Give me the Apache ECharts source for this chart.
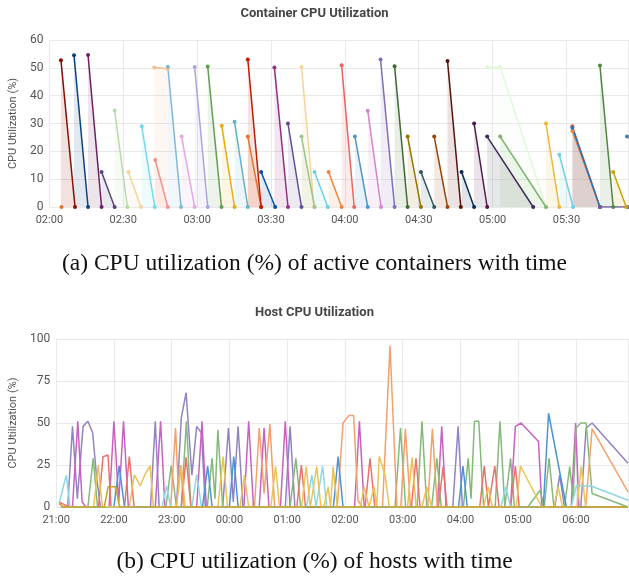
<!DOCTYPE html>
<html>
<head>
<meta charset="utf-8">
<script src="https://cdn.jsdelivr.net/npm/echarts@6/dist/echarts.min.js"></script>
<style>
  html, body { margin: 0; padding: 0; background: #fff; }
  #chart { width: 629px; height: 578px; }
</style>
</head>
<body>
<div id="chart"></div>
<script>
// (a) containers: minutes after 02:00, CPU %
const containerTicks = ['02:00', '02:30', '03:00', '03:30', '04:00', '04:30', '05:00', '05:30']
const containerTracks = [
  [[4.9, 0]],
  [[4.7, 52.7], [10.4, 0]],
  [[10, 54.5], [15.7, 0]],
  [[15.7, 54.6], [21.2, 0]],
  [[21.2, 12.6], [26.5, 0]],
  [[26.5, 34.7], [31.7, 0]],
  [[32.1, 12.6], [37.2, 0]],
  [[37.5, 29], [42.8, 0]],
  [[43, 16.9], [48.1, 0]],
  [[42.6, 50.1], [48.1, 49.7]],
  [[48.1, 50.4], [53.5, 0]],
  [[53.7, 25.3], [59, 0]],
  [[59, 50.3], [64.3, 0]],
  [[64.3, 50.5], [69.9, 0]],
  [[70, 29.2], [75.2, 0]],
  [[75.2, 30.6], [80.6, 0]],
  [[80.6, 25.3], [86, 0]],
  [[80.6, 53], [86, 0]],
  [[86, 12.6], [91.7, 0]],
  [[91.4, 50.1], [96.9, 0]],
  [[96.9, 30], [102.4, 0]],
  [[102.4, 50.3], [107.5, 0]],
  [[102.4, 25.3], [107.7, 0]],
  [[107.7, 12.6], [113.1, 0]],
  [[113.4, 12.6], [118.7, 0]],
  [[118.7, 50.9], [123.8, 0]],
  [[124.1, 25.3], [129.3, 0]],
  [[129.3, 34.6], [134.7, 0]],
  [[134.5, 53], [140.2, 0]],
  [[140.2, 50.6], [145.5, 0]],
  [[145.5, 25.3], [150.9, 0]],
  [[150.9, 12.6], [156.3, 0]],
  [[156.3, 25.3], [161.7, 0]],
  [[161.7, 52.5], [167.1, 0]],
  [[167.4, 12.6], [172.5, 0]],
  [[172.5, 30], [177.8, 0]],
  [[177.8, 25.3], [196.5, 0]],
  [[177.8, 50.3], [183.1, 50.3], [201.7, 0]],
  [[183.1, 25.3], [201.7, 0]],
  [[201.7, 30], [207.1, 0]],
  [[207.1, 18.8], [212.7, 0]],
  [[212.4, 29], [223.6, 0]],
  [[212.4, 27.3], [223.6, 0]],
  [[212.4, 28.5], [223.6, 0]],
  [[223.6, 0], [235, 0]],
  [[223.6, 50.8], [229, 0]],
  [[229, 12.6], [234.3, 0]],
  [[234.6, 25.3]]
]
const containerColors = [
  '#e0752d', '#890f02', '#0a437c', '#6d1f62', '#584477', '#b7dbab', '#f4d598', '#70dbed',
  '#f29191', '#f9ba8f', '#82b5d8', '#e5a8e2', '#aea2e0', '#629e51', '#e5ac0e', '#64b0c8',
  '#e0752d', '#bf1b00', '#0a50a1', '#962d82', '#614d93', '#f4d598', '#9ac48a', '#6ed0e0',
  '#ef843c', '#ea6460', '#5195ce', '#d683ce', '#806eb7', '#3f6833', '#967302', '#2f575e',
  '#99440a', '#58140c', '#052b51', '#511749', '#3f2b5b', '#e0f9d7', '#7eb26d', '#eab839',
  '#6ed0e0', '#e24d42', '#ef843c', '#1f78c1', '#705da0', '#508642', '#cca300', '#447ebc'
]

// (b) hosts: minutes after 21:00, CPU %
const hostTicks = ['21:00', '22:00', '23:00', '00:00', '01:00', '02:00', '03:00', '04:00', '05:00', '06:00']
const hostPurple = [
  [5, 0], [12, 0], [17, 48], [22, 5], [28, 48], [33, 51], [38, 44], [42, 18], [46, 0],
  [98, 0], [103, 51], [107, 0], [125, 0], [130, 53], [135, 68], [141, 19], [146, 48], [151, 44], [155, 0],
  [173, 0], [179, 47], [184, 3], [189, 48], [194, 0], [238, 0], [243, 48], [248, 0],
  [412, 0], [417.5, 48], [422, 0], [518, 0], [523, 19], [528, 0],
  [545, 0], [550.5, 47], [556.7, 50], [594, 26]
]
const hostMagenta = [
  [5, 0], [17, 0], [22.5, 51], [27, 3], [31, 0], [55, 0], [60, 51], [65, 3], [70, 51], [75, 0],
  [103, 0], [108.5, 51], [113, 0], [146, 0], [151.5, 51], [156, 0], [195, 0], [200, 51], [205, 0],
  [211, 0], [216, 47], [221, 0], [233, 0], [238, 51], [243, 0], [310, 0], [315, 51], [320, 0],
  [396, 0], [400.5, 48], [405, 0], [472, 0], [477, 48], [483, 50], [501, 39], [504.5, 0],
  [535, 0], [539.6, 50], [543, 0], [594, 0]
]
const hostGreen = [
  [5, 0], [33, 0], [38.5, 29], [43, 0], [114, 0], [119.5, 24.5], [125, 0], [130, 0], [135.3, 51], [140, 0],
  [157, 0], [162, 29], [165, 5], [168, 46], [173, 0], [243, 0], [249, 29], [254, 0],
  [352, 0], [357.7, 47], [363, 0], [375, 0], [380, 51], [385, 0], [390, 0], [395.5, 29], [400, 0],
  [423, 0], [428, 29], [431, 5], [434.5, 51], [439, 51], [444, 0], [456, 0], [461, 51], [466, 0], [472, 29], [476, 0],
  [490, 0], [502.7, 10], [507, 0], [512, 29], [517, 0], [528, 0], [533.5, 24], [537, 5], [540, 47],
  [545, 50], [550.5, 50], [556.7, 8], [594, 0]
]
const hostOrange = [
  [5, 0], [119, 0], [124, 47], [127, 10], [129, 25], [133, 0], [206, 0], [211, 47], [216, 8], [222, 49.4], [227, 0],
  [292, 0], [298, 50], [304, 54.4], [309, 54.4], [313.5, 4], [318, 0], [339, 0], [346.8, 96], [354, 0],
  [358, 0], [362.8, 46.5], [368, 0], [386, 0], [390.8, 46.5], [396, 0], [550, 0], [556.7, 46.5], [594, 9]
]
const hostRed = [
  [3, 3], [10, 1], [15, 0], [44, 0], [48.7, 30], [53.9, 31], [57, 0], [71, 0], [76, 30], [81, 0],
  [130, 0], [135, 29.5], [140, 0], [250, 0], [254.7, 25], [259, 0], [321, 0], [326, 29], [331, 0],
  [369, 0], [373.8, 29], [378, 0], [397, 0], [402, 24], [406, 0], [440, 0], [444.7, 24.4], [449, 0],
  [451, 0], [455.6, 24.4], [460, 0], [472, 0], [477, 24.4], [481, 0], [594, 0]
]
const hostBlue = [
  [5, 0], [60, 0], [65.5, 24.5], [71, 0], [152, 0], [157.4, 24.4], [162, 0], [180, 0], [184.5, 30], [189, 0],
  [288, 0], [292.9, 30], [298, 0], [418, 0], [422.6, 24.4], [427, 0], [506, 0], [511.5, 55.8], [530, 0], [594, 0]
]
const hostCyan = [
  [3, 2], [10.5, 19], [14.5, 0], [110, 0], [114.7, 12.5], [119, 0], [141, 0], [146, 19.5], [151, 0],
  [260, 0], [265.6, 19], [270, 0], [272, 0], [276.8, 24.4], [281, 0], [462, 0], [467, 12], [472, 0],
  [535, 0], [540.3, 12.5], [555.6, 12.5], [594, 4]
]
const hostYellow = [
  [5, 0], [39, 0], [43.7, 25], [48, 0], [76, 0], [81.2, 19.2], [87.4, 12.6], [92.5, 19.6], [97.6, 24.5], [101, 0],
  [125, 0], [130, 25], [134, 0], [168, 0], [173.4, 30], [178, 0], [191, 0], [195.6, 19], [200, 0],
  [223, 0], [228, 24], [232, 0], [255, 0], [259.8, 24], [264, 0], [266, 0], [270.7, 24], [275, 0],
  [278, 0], [282.6, 12], [285, 0], [287.7, 24], [292, 0], [316, 0], [320, 12], [325, 0], [326, 0], [330.4, 12],
  [333, 0], [335.6, 30], [341.7, 19], [346, 0], [365, 0], [369.7, 29.4], [374, 0], [380, 0], [385, 12], [390, 0],
  [444, 0], [448.8, 12], [453, 0], [478, 0], [482.3, 24.4], [504.4, 0], [517, 0], [521.5, 12], [526, 0],
  [541, 0], [545.4, 24], [550, 0], [594, 0]
]
const hostGold = [[3, 2], [8, 0], [50, 0], [54, 12], [62, 12], [66, 0], [594, 0]]

const hostTracks = [hostPurple, hostMagenta, hostGreen, hostOrange, hostRed, hostBlue, hostCyan, hostYellow, hostGold]
const hostColors = ['#9383c2', '#c862c2', '#86b879', '#f4a06a', '#e9726b', '#4a94d6', '#8cd8e6', '#ecc253', '#c6a227']

const chart = echarts.init(document.getElementById('chart'))

const axisText = { color: '#555', fontSize: 11, fontFamily: 'Roboto' }
const gridLine = { lineStyle: { color: '#e9e9e9' } }

function tickFormatter(labels, step) {
  return (v) => {
    const i = Math.round(v / step)
    return Math.abs(v - i * step) < 0.01 && labels[i] ? labels[i] : ''
  }
}

const series = []
containerTracks.forEach((track, i) => {
  const color = containerColors[i]
  series.push({
    type: 'line',
    xAxisIndex: 0,
    yAxisIndex: 0,
    data: track,
    symbol: 'circle',
    symbolSize: 4,
    lineStyle: { width: 1.5, color },
    itemStyle: { color },
    areaStyle: { color, opacity: 0.12 }
  })
})
hostTracks.forEach((track, i) => {
  series.push({
    type: 'line',
    xAxisIndex: 1,
    yAxisIndex: 1,
    data: track,
    showSymbol: false,
    lineStyle: { width: 1.5, color: hostColors[i] },
    itemStyle: { color: hostColors[i] }
  })
})

const chartTitle = { fontSize: 13, fontWeight: 'bold', color: '#464646', fontFamily: 'Roboto' }
const caption = { fontSize: 23.5, fontWeight: 'normal', color: '#111', fontFamily: 'Liberation Serif' }

chart.setOption({
  animation: false,
  backgroundColor: '#fff',
  title: [
    { text: 'Container CPU Utilization', left: 'center', top: 2, textStyle: chartTitle },
    { text: '(a) CPU utilization (%) of active containers with time', left: 'center', top: 247, textStyle: caption },
    { text: 'Host CPU Utilization', left: 'center', top: 301, textStyle: chartTitle },
    { text: '(b) CPU utilization (%) of hosts with time', left: 'center', top: 545, textStyle: caption }
  ],
  grid: [
    { left: 45, right: 1, top: 40, height: 167 },
    { left: 50, right: 1, top: 339, height: 168 }
  ],
  xAxis: [
    {
      type: 'value', gridIndex: 0, min: 0, max: 235, interval: 30,
      axisLine: { show: false }, axisTick: { show: false },
      axisLabel: { ...axisText, margin: 8, showMaxLabel: false, formatter: tickFormatter(containerTicks, 30) },
      splitLine: gridLine
    },
    {
      type: 'value', gridIndex: 1, min: 0, max: 594, interval: 60,
      axisLine: { show: false }, axisTick: { show: false },
      axisLabel: { ...axisText, margin: 8, showMaxLabel: false, formatter: tickFormatter(hostTicks, 60) },
      splitLine: gridLine
    }
  ],
  yAxis: [
    {
      type: 'value', gridIndex: 0, min: 0, max: 60, interval: 10,
      name: 'CPU Utilization (%)', nameLocation: 'middle', nameGap: 28,
      nameTextStyle: axisText,
      axisLine: { show: false }, axisTick: { show: false },
      axisLabel: { ...axisText, fontSize: 12, margin: 6 },
      splitLine: gridLine
    },
    {
      type: 'value', gridIndex: 1, min: 0, max: 100, interval: 25,
      name: 'CPU Utilization (%)', nameLocation: 'middle', nameGap: 32,
      nameTextStyle: axisText,
      axisLine: { show: false }, axisTick: { show: false },
      axisLabel: { ...axisText, fontSize: 12, margin: 6 },
      splitLine: gridLine
    }
  ],
  series
})
</script>
</body>
</html>
